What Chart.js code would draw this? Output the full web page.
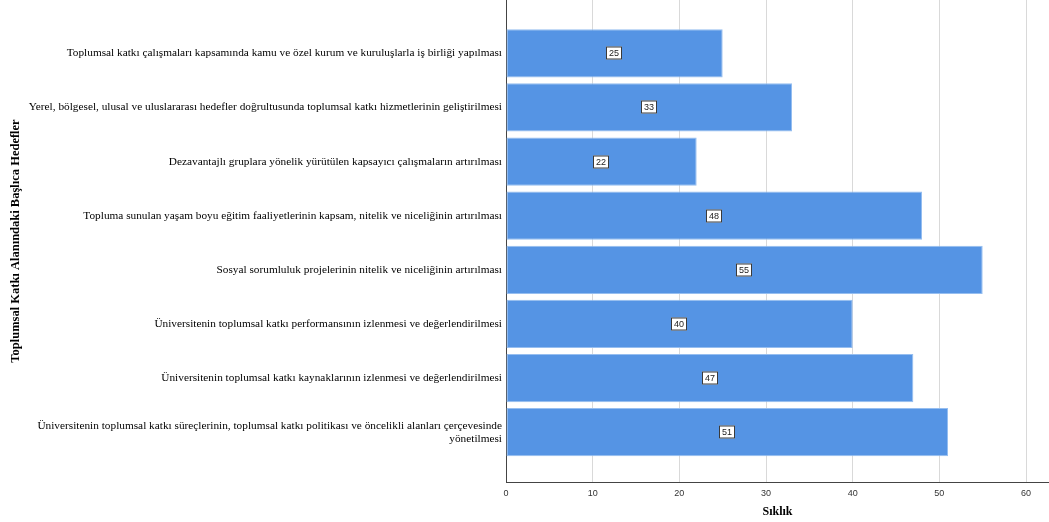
<!DOCTYPE html>
<html>
<head>
<meta charset="utf-8">
<script src="https://cdn.jsdelivr.net/npm/chart.js@4"></script>
<style>
  html, body { margin: 0; padding: 0; background: #fff; }
  #wrap { width: 1049px; height: 522px; }
</style>
</head>
<body>
<div id="wrap"><canvas id="chart" width="1049" height="522"></canvas></div>
<script>
(() => {
    'use strict'

    const categories = [
        'Toplumsal katkı çalışmaları kapsamında kamu ve özel kurum ve kuruluşlarla iş birliği yapılması',
        'Yerel, bölgesel, ulusal ve uluslararası hedefler doğrultusunda toplumsal katkı hizmetlerinin geliştirilmesi',
        'Dezavantajlı gruplara yönelik yürütülen kapsayıcı çalışmaların artırılması',
        'Topluma sunulan yaşam boyu eğitim faaliyetlerinin kapsam, nitelik ve niceliğinin artırılması',
        'Sosyal sorumluluk projelerinin nitelik ve niceliğinin artırılması',
        'Üniversitenin toplumsal katkı performansının izlenmesi ve değerlendirilmesi',
        'Üniversitenin toplumsal katkı kaynaklarının izlenmesi ve değerlendirilmesi',
        ['Üniversitenin toplumsal katkı süreçlerinin, toplumsal katkı politikası ve öncelikli alanları çerçevesinde', 'yönetilmesi'],
    ]
    const frequencies = [25, 33, 22, 48, 55, 40, 47, 51]
    const xTicks = [0, 10, 20, 30, 40, 50, 60]

    const BAR_BLUE = 'rgb(85, 148, 228)'
    const SERIF = '"Liberation Serif", "Times New Roman", serif'
    const SANS = '"Liberation Sans", Arial, sans-serif'

    const points = frequencies.map((v, i) => ({ x: v, y: i }))

    // white boxed value labels in the middle of each bar
    const valueBoxes = {
        id: 'valueBoxes',
        afterDatasetsDraw(chart) {
            const ctx = chart.ctx
            const meta = chart.getDatasetMeta(0)
            const xs = chart.scales.x
            ctx.save()
            ctx.font = '9px ' + SANS
            ctx.textAlign = 'center'
            ctx.textBaseline = 'middle'
            meta.data.forEach((bar, i) => {
                const cx = Math.round(xs.getPixelForValue(frequencies[i] / 2))
                const cy = Math.round(bar.y)
                const text = String(frequencies[i])
                const w = Math.ceil(ctx.measureText(text).width) + 5
                const h = 13
                ctx.fillStyle = '#fff'
                ctx.fillRect(cx - w / 2, cy - h / 2, w, h)
                ctx.strokeStyle = '#3a3a3a'
                ctx.lineWidth = 1
                ctx.strokeRect(cx - w / 2 + 0.5, cy - h / 2 + 0.5, w - 1, h - 1)
                ctx.fillStyle = '#222'
                ctx.fillText(text, cx, cy + 0.5)
            })
            ctx.restore()
        },
    }

    new Chart(document.getElementById('chart'), {
        type: 'bar',
        data: {
            datasets: [{
                data: points,
                backgroundColor: BAR_BLUE,
                borderColor: 'rgb(150, 190, 240)',
                borderWidth: 1,
                borderSkipped: false,
                barPercentage: 0.89,
                categoryPercentage: 1,
            }],
        },
        plugins: [valueBoxes],
        options: {
            indexAxis: 'y',
            responsive: false,
            animation: false,
            layout: { padding: { top: 0, right: 0, bottom: 0, left: 8 } },
            plugins: {
                legend: { display: false },
                tooltip: { enabled: false },
            },
            scales: {
                y: {
                    type: 'linear',
                    reverse: true,
                    offset: false,
                    min: -0.985,
                    max: 7.92,
                    afterBuildTicks: (scale) => {
                        scale.ticks = categories.map((_, i) => ({ value: i }))
                    },
                    afterFit: (scale) => {
                        scale.width = 498
                        scale.paddingTop = 0
                        scale.paddingBottom = 0
                    },
                    ticks: {
                        autoSkip: false,
                        padding: 4,
                        color: '#000',
                        font: { family: SERIF, size: 11.3, lineHeight: 1.15 },
                        callback: (value) => categories[value],
                    },
                    grid: { display: false, drawTicks: false, offset: false },
                    border: { display: true, color: '#444', width: 1 },
                    title: {
                        display: true,
                        text: 'Toplumsal Katkı Alanındaki Başlıca Hedefler',
                        color: '#000',
                        font: { family: SERIF, size: 12.5, weight: 'bold' },
                        padding: { top: 0, bottom: 0 },
                    },
                },
                x: {
                    type: 'linear',
                    min: 0,
                    max: 62.65,
                    afterBuildTicks: (scale) => {
                        scale.ticks = xTicks.map(v => ({ value: v }))
                    },
                    afterFit: (scale) => { scale.height = 40 },
                    ticks: {
                        padding: 6,
                        color: '#333',
                        font: { family: SANS, size: 9 },
                    },
                    grid: { color: '#d9d9d9', drawTicks: false, lineWidth: 1 },
                    border: { display: true, color: '#444', width: 1 },
                    title: {
                        display: true,
                        text: 'Sıklık',
                        color: '#000',
                        font: { family: SERIF, size: 12, weight: 'bold' },
                        padding: { top: 0, bottom: 3 },
                    },
                },
            },
        },
    })
})()
</script>
</body>
</html>
